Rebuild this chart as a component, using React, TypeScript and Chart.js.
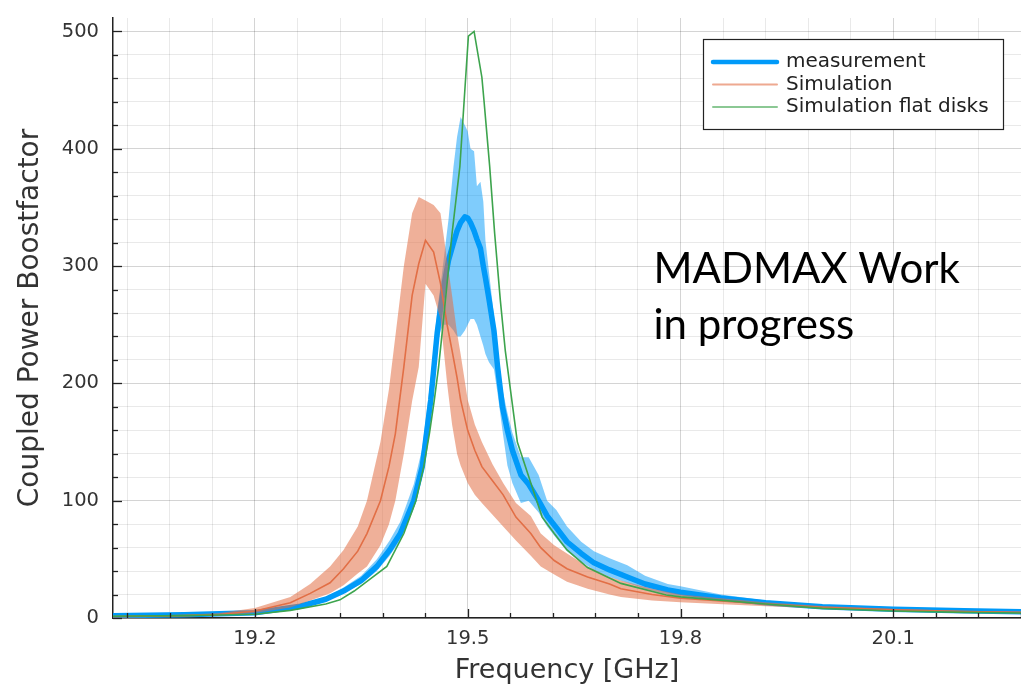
import React, { useEffect, useRef } from 'react';
import { Chart, registerables } from 'chart.js';

Chart.register(...registerables);

// ---------------- Data ----------------
const measX = [19.00, 19.10, 19.20, 19.264, 19.30, 19.325, 19.35, 19.372, 19.39, 19.405, 19.424, 19.436, 19.448, 19.457, 19.462, 19.466, 19.473, 19.48, 19.485, 19.49, 19.496, 19.50, 19.504, 19.509, 19.513, 19.518, 19.522, 19.525, 19.530, 19.537, 19.542, 19.549, 19.556, 19.563, 19.575, 19.586, 19.600, 19.612, 19.625, 19.640, 19.660, 19.678, 19.700, 19.725, 19.750, 19.782, 19.800, 19.857, 19.920, 20.000, 20.100, 20.200, 20.280];
const measY = [2.0, 2.8, 4.5, 10, 16, 23, 32, 44, 58, 72, 100, 129, 186, 243, 265, 282, 305, 320, 330, 337, 342, 341, 337, 330, 323, 315, 300, 290, 272, 245, 215, 180, 160, 143, 122, 114, 100, 87, 77, 65, 55, 47, 41, 35, 29, 24, 22, 17, 13, 9.6, 7.4, 6.2, 5.4];
const measHi = [2.5, 3.3, 5.5, 11.5, 18, 26, 36, 50, 66, 82, 114, 145, 205, 262, 285, 305, 340, 385, 410, 427, 420, 415, 400, 398, 368, 372, 355, 322, 295, 258, 228, 195, 175, 158, 137, 137, 122, 100, 92, 78, 65, 57, 51, 45, 36, 29, 27, 20, 15, 11, 8.5, 7, 6.2];
const measLo = [1.5, 2.3, 3.8, 9, 14.5, 21, 29, 40, 53, 66, 93, 121, 175, 232, 245, 250, 250, 245, 240, 240, 245, 250, 255, 255, 250, 240, 232, 225, 218, 212, 192, 160, 130, 115, 98, 100, 90, 78, 68, 57, 48, 41, 35, 30, 25, 20, 18.5, 14, 11, 8.5, 6.5, 5.4, 4.7];

const simX = [19.00, 19.10, 19.15, 19.20, 19.25, 19.278, 19.306, 19.325, 19.345, 19.358, 19.377, 19.389, 19.398, 19.41, 19.4217, 19.431, 19.4405, 19.452, 19.4617, 19.471, 19.478, 19.485, 19.49, 19.50, 19.51, 19.52, 19.535, 19.55, 19.568, 19.589, 19.603, 19.622, 19.64, 19.669, 19.70, 19.716, 19.76, 19.80, 19.92, 20.0, 20.1, 20.2, 20.28];
const simY = [1.2, 2.0, 3.0, 6.0, 13, 21, 30, 42, 57, 72, 100, 129, 157, 214, 275, 302, 322, 312, 285, 250, 228, 205, 186, 160, 143, 129, 117, 105, 86, 72, 60, 49, 42, 35, 29, 25, 20, 16.8, 11.9, 9.1, 7, 5.5, 4.8];
const simHi = [1.6, 2.8, 4.2, 8.5, 18, 29, 44, 58, 78, 100, 150, 195, 240, 300, 345, 359, 356, 352, 345, 305, 275, 243, 225, 186, 165, 150, 131, 115, 98, 87, 72, 62, 55, 44, 35, 32, 25, 20, 13.5, 10.3, 7.8, 6.2, 5.3];
const simLo = [0.9, 1.5, 2.2, 4.3, 9, 15, 21, 28, 38, 44, 62, 80, 100, 140, 185, 214, 285, 275, 255, 200, 165, 140, 130, 115, 105, 98, 88, 78, 66, 53, 44, 37, 31, 25, 20, 18, 15, 13.5, 10, 8, 6.2, 4.9, 4.3];

const flatX = [19.00, 19.10, 19.15, 19.20, 19.25, 19.30, 19.32, 19.34, 19.36, 19.386, 19.41, 19.427, 19.438, 19.446, 19.453, 19.459, 19.464, 19.478, 19.489, 19.495, 19.501, 19.509, 19.520, 19.523, 19.531, 19.538, 19.546, 19.553, 19.570, 19.589, 19.605, 19.622, 19.640, 19.669, 19.716, 19.780, 19.800, 19.920, 20.000, 20.100, 20.200, 20.280];
const flatY = [1.5, 2.0, 2.5, 3.2, 6.5, 12, 15.5, 23, 32, 44, 72, 100, 129, 157, 186, 214, 243, 328, 385, 441, 496, 500, 461, 441, 385, 328, 271, 228, 150, 115, 86, 72, 58, 43, 29.5, 19.6, 18, 12, 8.2, 6, 4.8, 4.2];

const seriesLabels = ['measurement', 'Simulation', 'Simulation flat disks'];
const xMajorTicks = [19.2, 19.5, 19.8, 20.1];
const yMajorTicks = [0, 100, 200, 300, 400, 500];
const xMinorStart = 19.02;
const xMinorStep = 0.06;
const yMinorStep = 20;
const xMin = 19.0;
const xMax = 20.28;
const yMin = 0;
const yMax = 511.5;
const xTitle = 'Frequency [GHz]';
const yTitle = 'Coupled Power Boostfactor';
const noteLines = ['MADMAX Work', 'in progress'];
const notePos = { x: 19.762, y: [285.5, 237.8] };

// ---------------- Styles ----------------
const BLUE = '#009AF9';
const ORANGE = '#E26F46';
const GREEN = '#3DA44D';
const BLUE_BAND = 'rgba(0,154,249,0.5)';
const ORANGE_BAND = 'rgba(226,111,70,0.55)';
const MAJOR_GRID = 'rgba(0,0,0,0.17)';
const MINOR_GRID = 'rgba(0,0,0,0.085)';
const AXIS = '#222';
const TEXT = '#333';

const xTickValues: number[] = [];
for (let k = 0; xMinorStart + k * xMinorStep <= xMax + 1e-9; k++) {
  xTickValues.push(Math.round((xMinorStart + k * xMinorStep) * 1000) / 1000);
}
const yTickValues: number[] = [];
for (let v = yMin; v <= 500 + 1e-9; v += yMinorStep) yTickValues.push(v);

const isMajor = (v: number, list: number[]) => list.some((m) => Math.abs(m - v) < 1e-6);

const pts = (xs: number[], ys: number[]) => xs.map((x, i) => ({ x, y: ys[i] }));

const decorPlugin = {
  id: 'decor',
  afterDraw(chart: any) {
    const { ctx, chartArea, scales } = chart;
    const xs = scales.x;
    const ys = scales.y;
    ctx.save();
    // inward tick marks
    ctx.strokeStyle = AXIS;
    ctx.lineWidth = 1.3;
    xs.ticks.forEach((t: any) => {
      const px = Math.round(xs.getPixelForValue(t.value)) + 0.5;
      const len = isMajor(t.value, xMajorTicks) ? 9 : 5;
      ctx.beginPath();
      ctx.moveTo(px, chartArea.bottom);
      ctx.lineTo(px, chartArea.bottom - len);
      ctx.stroke();
    });
    ys.ticks.forEach((t: any) => {
      const py = Math.round(ys.getPixelForValue(t.value)) + 0.5;
      const len = isMajor(t.value, yMajorTicks) ? 9 : 5;
      ctx.beginPath();
      ctx.moveTo(chartArea.left, py);
      ctx.lineTo(chartArea.left + len, py);
      ctx.stroke();
    });

    // legend box
    const boxW = 300;
    const boxH = 90;
    const bx = chartArea.right - 18 - boxW;
    const by = chartArea.top + 21;
    ctx.fillStyle = '#ffffff';
    ctx.fillRect(bx, by, boxW, boxH);
    ctx.strokeStyle = AXIS;
    ctx.lineWidth = 1.2;
    ctx.strokeRect(bx + 0.5, by + 0.5, boxW, boxH);
    const legendItems = chart.data.datasets.filter((d: any) => d.inLegend);
    ctx.font = "20px 'DejaVu Sans'";
    ctx.textBaseline = 'middle';
    ctx.textAlign = 'left';
    legendItems.forEach((d: any, i: number) => {
      const cy = by + 23 + i * 22.5;
      ctx.strokeStyle = d.legendColor;
      ctx.lineWidth = d.legendWidth;
      ctx.lineCap = 'round';
      ctx.beginPath();
      ctx.moveTo(bx + 10, cy);
      ctx.lineTo(bx + 74, cy);
      ctx.stroke();
      ctx.fillStyle = '#222';
      ctx.fillText(d.label, bx + 83, cy);
    });

    // annotation text
    ctx.fillStyle = '#000';
    ctx.font = "42px Lato";
    ctx.textBaseline = 'alphabetic';
    const tx = xs.getPixelForValue(notePos.x);
    noteLines.forEach((line, i) => {
      ctx.fillText(line, tx, ys.getPixelForValue(notePos.y[i]));
    });
    ctx.restore();
  },
};

export default function App() {
  const ref = useRef<HTMLCanvasElement>(null);

  useEffect(() => {
    if (!ref.current) return;
    Chart.defaults.font.family = "'DejaVu Sans', sans-serif";
    const chart = new Chart(ref.current, {
      type: 'line',
      data: {
        datasets: [
          { data: pts(measX, measLo), borderWidth: 0, pointRadius: 0, fill: false, order: 6 } as any,
          { data: pts(measX, measHi), borderWidth: 0, pointRadius: 0, fill: 0, backgroundColor: BLUE_BAND, order: 5 },
          { label: seriesLabels[0], inLegend: true, legendColor: BLUE, legendWidth: 4.5, data: pts(measX, measY), borderColor: BLUE, borderWidth: 5.5, pointRadius: 0, fill: false, order: 4, borderJoinStyle: 'round', borderCapStyle: 'round' },
          { data: pts(simX, simLo), borderWidth: 0, pointRadius: 0, fill: false, order: 3 },
          { data: pts(simX, simHi), borderWidth: 0, pointRadius: 0, fill: 3, backgroundColor: ORANGE_BAND, order: 2 },
          { label: seriesLabels[1], inLegend: true, legendColor: 'rgba(226,111,70,0.6)', legendWidth: 2, data: pts(simX, simY), borderColor: ORANGE, borderWidth: 1.6, pointRadius: 0, fill: false, order: 1 },
          { label: seriesLabels[2], inLegend: true, legendColor: 'rgba(61,164,77,0.6)', legendWidth: 2, data: pts(flatX, flatY), borderColor: GREEN, borderWidth: 1.6, pointRadius: 0, fill: false, order: 0 },
        ],
      },
      options: {
        responsive: false,
        maintainAspectRatio: false,
        animation: false,
        devicePixelRatio: 1,
        events: [],
        layout: { autoPadding: false, padding: { top: 18, right: 0, bottom: 0, left: 0 } },
        plugins: {
          legend: { display: false },
          tooltip: { enabled: false },
        },
        scales: {
          x: {
            type: 'linear',
            min: xMin,
            max: xMax,
            afterBuildTicks: (s: any) => {
              s.ticks = xTickValues.map((v) => ({ value: v }));
            },
            afterFit: (s: any) => {
              s.height = 69;
              s.paddingLeft = 0;
              s.paddingRight = 0;
              s.paddingTop = 0;
              s.paddingBottom = 0;
            },
            ticks: {
              autoSkip: false,
              maxRotation: 0,
              minRotation: 0,
              padding: 9,
              color: TEXT,
              font: { size: 19.5 },
              callback: (v: any) => (isMajor(Number(v), xMajorTicks) ? Number(v).toFixed(1) : ''),
            },
            grid: {
              drawTicks: false,
              lineWidth: 1,
              color: (c: any) => (c.tick && isMajor(c.tick.value, xMajorTicks) ? MAJOR_GRID : MINOR_GRID),
            },
            border: { display: true, color: AXIS, width: 1.5 },
            title: { display: true, text: xTitle, color: TEXT, font: { size: 27 }, padding: { top: 0, bottom: 0 } },
          },
          y: {
            type: 'linear',
            min: yMin,
            max: yMax,
            afterBuildTicks: (s: any) => {
              s.ticks = yTickValues.map((v) => ({ value: v }));
            },
            afterFit: (s: any) => {
              s.width = 113;
              s.paddingLeft = 0;
              s.paddingRight = 0;
              s.paddingTop = 0;
              s.paddingBottom = 0;
            },
            ticks: {
              autoSkip: false,
              padding: 14,
              color: TEXT,
              font: { size: 19.5 },
              callback: (v: any) => (isMajor(Number(v), yMajorTicks) ? String(v) : ''),
            },
            grid: {
              drawTicks: false,
              lineWidth: 1,
              color: (c: any) => (c.tick && isMajor(c.tick.value, yMajorTicks) ? MAJOR_GRID : MINOR_GRID),
            },
            border: { display: true, color: AXIS, width: 1.5 },
            title: { display: true, text: yTitle, color: TEXT, font: { size: 28 }, padding: { top: 14, bottom: 0 } },
          },
        },
      } as any,
      plugins: [decorPlugin],
    });
    return () => chart.destroy();
  }, []);

  return (
    <div style={{ position: 'fixed', left: 0, top: 0, width: 1021, height: 687, background: '#fff' }}>
      <canvas ref={ref} width={1021} height={687} style={{ display: 'block', width: 1021, height: 687 }} />
    </div>
  );
}
